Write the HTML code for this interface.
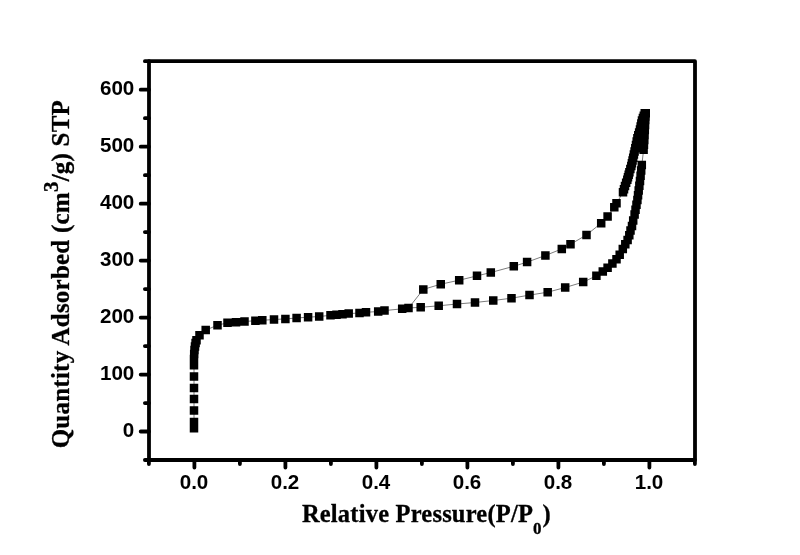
<!DOCTYPE html>
<html><head><meta charset="utf-8"><title>Isotherm</title>
<style>html,body{margin:0;padding:0;background:#fff;}svg{display:block;}</style>
</head><body>
<svg width="800" height="555" viewBox="0 0 800 555">
<rect width="800" height="555" fill="#fff"/>
<rect x="149.0" y="61.2" width="546.0" height="398.8" fill="none" stroke="#000" stroke-width="3.8" stroke-linejoin="round"/>
<path d="M148.90 460.0 V464.10 M194.40 460.0 V467.60 M239.90 460.0 V464.10 M285.40 460.0 V467.60 M330.90 460.0 V464.10 M376.40 460.0 V467.60 M421.90 460.0 V464.10 M467.40 460.0 V467.60 M512.90 460.0 V464.10 M558.40 460.0 V467.60 M603.90 460.0 V464.10 M649.40 460.0 V467.60 M694.90 460.0 V464.10 M149.0 460.00 H144.90 M149.0 431.51 H140.70 M149.0 403.03 H144.90 M149.0 374.54 H140.70 M149.0 346.06 H144.90 M149.0 317.57 H140.70 M149.0 289.09 H144.90 M149.0 260.60 H140.70 M149.0 232.11 H144.90 M149.0 203.63 H140.70 M149.0 175.14 H144.90 M149.0 146.66 H140.70 M149.0 118.17 H144.90 M149.0 89.69 H140.70 M149.0 61.20 H144.90" stroke="#000" stroke-width="3.8" stroke-linecap="round" fill="none"/>
<g font-family="'Liberation Sans', Arial, sans-serif" font-weight="bold" font-size="20.6" fill="#000"><text x="194.00" y="489.4" text-anchor="middle">0.0</text><text x="285.00" y="489.4" text-anchor="middle">0.2</text><text x="376.00" y="489.4" text-anchor="middle">0.4</text><text x="467.00" y="489.4" text-anchor="middle">0.6</text><text x="558.00" y="489.4" text-anchor="middle">0.8</text><text x="649.00" y="489.4" text-anchor="middle">1.0</text><text x="134.3" y="437.01" text-anchor="end">0</text><text x="134.3" y="380.04" text-anchor="end">100</text><text x="134.3" y="323.07" text-anchor="end">200</text><text x="134.3" y="266.10" text-anchor="end">300</text><text x="134.3" y="209.13" text-anchor="end">400</text><text x="134.3" y="152.16" text-anchor="end">500</text><text x="134.3" y="95.19" text-anchor="end">600</text></g>
<text id="xt" x="301.9" y="521.5" letter-spacing="0.2" font-family="'Liberation Serif', 'Times New Roman', serif" font-weight="bold" font-size="24.5" fill="#000" stroke="#000" stroke-width="0.3">Relative Pressure(P/P<tspan font-size="17" dy="12.3" dx="0">0</tspan><tspan dy="-11.4" dx="0.6">)</tspan></text>
<text id="yt" transform="translate(69 448.3) rotate(-90)" font-family="'Liberation Serif', 'Times New Roman', serif" font-weight="bold" font-size="25" fill="#000" stroke="#000" stroke-width="0.3" textLength="348.2" lengthAdjust="spacing">Quantity Adsorbed (cm<tspan font-size="21" dy="-11.5">3</tspan><tspan dy="11.5">/g) STP</tspan></text>
<path d="M194.0 428.3 L194.0 422.0 L194.0 410.6 L194.0 399.1 L194.0 387.9 L194.0 376.4 L194.0 365.2 L194.0 359.0 L194.2 354.0 L194.5 350.0 L195.0 346.5 L195.6 343.0 L196.5 340.3 L199.5 335.3 L205.7 330.1 L217.5 325.2 L227.5 322.8 L236.0 322.2 L244.5 321.5 L255.4 320.7 L262.3 320.3 L274.0 319.5 L285.4 318.9 L296.6 318.0 L308.1 317.2 L319.2 316.5 L330.5 315.3 L336.5 314.8 L342.5 314.2 L348.7 313.6 L359.5 313.0 L366.0 312.3 L378.2 311.5 L384.5 310.6 L402.2 308.8 L408.5 308.0 L420.7 307.3 L438.7 305.8 L457.0 304.0 L475.0 302.5 L493.2 300.5 L511.5 298.2 L529.5 295.1 L547.7 292.2 L565.2 287.5 L583.2 282.1 L596.4 275.8 L602.8 271.6 L607.6 267.7 L612.4 263.5 L616.5 259.2 L619.7 254.7 L622.8 249.0 L625.3 244.3 L627.6 239.9 L629.3 235.2 L630.5 230.4 L632.0 225.9 L633.2 220.4 L634.6 214.5 L635.5 209.7 L636.5 204.8 L637.4 200.0 L638.0 195.2 L638.7 190.5 L639.4 185.8 L640.0 181.0 L640.6 175.7 L641.2 170.4 L641.8 165.1 L643.6 149.8 L644.0 144.9 L644.3 140.0 L644.5 135.0 L644.8 130.0 L645.0 125.0 L645.3 120.0 L645.5 116.6 L645.8 113.2" fill="none" stroke="#505050" stroke-width="0.75"/>
<path d="M644.8 113.2 L643.8 115.7 L642.9 118.1 L642.0 120.5 L641.3 123.5 L640.7 126.5 L640.0 129.5 L639.1 132.4 L638.3 135.4 L637.4 138.3 L636.7 141.6 L636.0 144.9 L635.3 148.2 L634.6 151.4 L633.9 154.6 L633.2 157.8 L632.6 160.5 L631.9 163.2 L631.3 165.9 L630.3 169.1 L629.4 172.2 L628.7 174.7 L628.0 177.2 L627.3 179.7 L626.1 182.8 L625.0 186.0 L624.0 189.2 L623.0 192.3 L616.5 203.3 L614.3 207.2 L607.6 216.5 L601.2 223.2 L586.5 234.9 L570.5 244.3 L561.8 248.9 L545.4 255.5 L527.1 262.1 L513.8 266.3 L490.8 272.5 L477.0 275.9 L459.2 280.2 L440.8 284.2 L423.3 289.4 L409.0 307.5" fill="none" stroke="#505050" stroke-width="0.75"/>
<path d="M189.75 424.05h8.5v8.5h-8.5zM189.75 417.75h8.5v8.5h-8.5zM189.75 406.35h8.5v8.5h-8.5zM189.75 394.85h8.5v8.5h-8.5zM189.75 383.65h8.5v8.5h-8.5zM189.75 372.15h8.5v8.5h-8.5zM189.75 360.95h8.5v8.5h-8.5zM189.75 354.75h8.5v8.5h-8.5zM189.95 349.75h8.5v8.5h-8.5zM190.25 345.75h8.5v8.5h-8.5zM190.75 342.25h8.5v8.5h-8.5zM191.35 338.75h8.5v8.5h-8.5zM192.25 336.05h8.5v8.5h-8.5zM195.25 331.05h8.5v8.5h-8.5zM201.45 325.85h8.5v8.5h-8.5zM213.25 320.95h8.5v8.5h-8.5zM223.25 318.55h8.5v8.5h-8.5zM231.75 317.95h8.5v8.5h-8.5zM240.25 317.25h8.5v8.5h-8.5zM251.15 316.45h8.5v8.5h-8.5zM258.05 316.05h8.5v8.5h-8.5zM269.75 315.25h8.5v8.5h-8.5zM281.15 314.65h8.5v8.5h-8.5zM292.35 313.75h8.5v8.5h-8.5zM303.85 312.95h8.5v8.5h-8.5zM314.95 312.25h8.5v8.5h-8.5zM326.25 311.05h8.5v8.5h-8.5zM332.25 310.55h8.5v8.5h-8.5zM338.25 309.95h8.5v8.5h-8.5zM344.45 309.35h8.5v8.5h-8.5zM355.25 308.75h8.5v8.5h-8.5zM361.75 308.05h8.5v8.5h-8.5zM373.95 307.25h8.5v8.5h-8.5zM380.25 306.35h8.5v8.5h-8.5zM397.95 304.55h8.5v8.5h-8.5zM404.25 303.75h8.5v8.5h-8.5zM416.45 303.05h8.5v8.5h-8.5zM434.45 301.55h8.5v8.5h-8.5zM452.75 299.75h8.5v8.5h-8.5zM470.75 298.25h8.5v8.5h-8.5zM489.00 296.25h8.5v8.5h-8.5zM507.25 293.95h8.5v8.5h-8.5zM525.25 290.85h8.5v8.5h-8.5zM543.45 287.95h8.5v8.5h-8.5zM560.95 283.25h8.5v8.5h-8.5zM578.95 277.85h8.5v8.5h-8.5zM592.15 271.55h8.5v8.5h-8.5zM598.55 267.35h8.5v8.5h-8.5zM603.35 263.45h8.5v8.5h-8.5zM608.15 259.25h8.5v8.5h-8.5zM612.25 254.95h8.5v8.5h-8.5zM615.45 250.45h8.5v8.5h-8.5zM618.55 244.75h8.5v8.5h-8.5zM621.05 240.05h8.5v8.5h-8.5zM623.35 235.65h8.5v8.5h-8.5zM625.05 230.95h8.5v8.5h-8.5zM626.25 226.15h8.5v8.5h-8.5zM627.75 221.65h8.5v8.5h-8.5zM628.95 216.15h8.5v8.5h-8.5zM630.35 210.25h8.5v8.5h-8.5zM631.28 205.42h8.5v8.5h-8.5zM632.22 200.58h8.5v8.5h-8.5zM633.15 195.75h8.5v8.5h-8.5zM633.80 191.00h8.5v8.5h-8.5zM634.45 186.25h8.5v8.5h-8.5zM635.10 181.50h8.5v8.5h-8.5zM635.75 176.75h8.5v8.5h-8.5zM636.35 171.45h8.5v8.5h-8.5zM636.95 166.15h8.5v8.5h-8.5zM637.55 160.85h8.5v8.5h-8.5zM639.35 145.50h8.5v8.5h-8.5zM639.70 140.62h8.5v8.5h-8.5zM640.05 135.75h8.5v8.5h-8.5zM640.30 130.75h8.5v8.5h-8.5zM640.55 125.75h8.5v8.5h-8.5zM640.80 120.75h8.5v8.5h-8.5zM641.05 115.75h8.5v8.5h-8.5zM641.27 112.35h8.5v8.5h-8.5zM641.50 108.95h8.5v8.5h-8.5zM640.50 109.00h8.5v8.5h-8.5zM639.58 111.42h8.5v8.5h-8.5zM638.67 113.83h8.5v8.5h-8.5zM637.75 116.25h8.5v8.5h-8.5zM637.08 119.25h8.5v8.5h-8.5zM636.42 122.25h8.5v8.5h-8.5zM635.75 125.25h8.5v8.5h-8.5zM634.88 128.18h8.5v8.5h-8.5zM634.02 131.12h8.5v8.5h-8.5zM633.15 134.05h8.5v8.5h-8.5zM632.45 137.35h8.5v8.5h-8.5zM631.75 140.65h8.5v8.5h-8.5zM631.05 143.95h8.5v8.5h-8.5zM630.35 147.15h8.5v8.5h-8.5zM629.65 150.35h8.5v8.5h-8.5zM628.95 153.55h8.5v8.5h-8.5zM628.32 156.25h8.5v8.5h-8.5zM627.68 158.95h8.5v8.5h-8.5zM627.05 161.65h8.5v8.5h-8.5zM626.10 164.80h8.5v8.5h-8.5zM625.15 167.95h8.5v8.5h-8.5zM624.45 170.45h8.5v8.5h-8.5zM623.75 172.95h8.5v8.5h-8.5zM623.05 175.45h8.5v8.5h-8.5zM621.90 178.60h8.5v8.5h-8.5zM620.75 181.75h8.5v8.5h-8.5zM619.75 184.90h8.5v8.5h-8.5zM618.75 188.05h8.5v8.5h-8.5zM612.25 199.05h8.5v8.5h-8.5zM610.05 202.95h8.5v8.5h-8.5zM603.35 212.25h8.5v8.5h-8.5zM596.95 218.95h8.5v8.5h-8.5zM582.25 230.65h8.5v8.5h-8.5zM566.25 240.05h8.5v8.5h-8.5zM557.55 244.65h8.5v8.5h-8.5zM541.15 251.25h8.5v8.5h-8.5zM522.85 257.85h8.5v8.5h-8.5zM509.55 262.05h8.5v8.5h-8.5zM486.55 268.25h8.5v8.5h-8.5zM472.75 271.60h8.5v8.5h-8.5zM454.95 275.95h8.5v8.5h-8.5zM436.50 280.00h8.5v8.5h-8.5zM419.05 285.15h8.5v8.5h-8.5z" fill="#000"/>
</svg>
</body></html>
